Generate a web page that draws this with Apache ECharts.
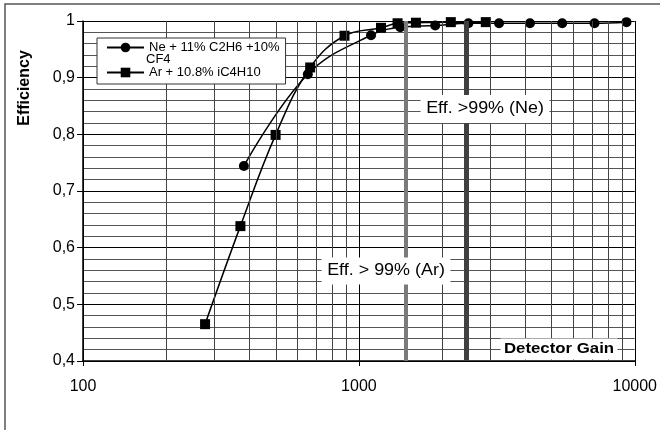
<!DOCTYPE html>
<html>
<head>
    <meta charset="utf-8">
    <title>Efficiency vs Detector Gain</title>
    <script src="https://cdn.jsdelivr.net/npm/echarts@6/dist/echarts.min.js"></script>
    <style>
        html, body { margin: 0; padding: 0; background: #fff; }
        #chart { width: 660px; height: 430px; }
    </style>
</head>
<body>
<div id="chart"></div>
<script>
    // 数据
    var neName = 'Ne + 11% C2H6 +10% CF4';
    var arName = 'Ar + 10.8% iC4H10';
    var neGain = [383, 653, 1107, 1413, 1891, 2495, 3222, 4170, 5458, 7147, 9332];
    var neEff = [0.744, 0.906, 0.975, 0.989, 0.992, 0.996, 0.996, 0.996, 0.996, 0.996, 0.998];
    var arGain = [277, 372, 499, 666, 887, 1203, 1381, 1610, 2154, 2884];
    var arEff = [0.465, 0.638, 0.799, 0.918, 0.974, 0.988, 0.996, 0.997, 0.998, 0.998];
    var gainMinorTicks = [200, 300, 400, 500, 600, 700, 800, 900, 2000, 3000, 4000, 5000, 6000, 7000, 8000, 9000];
    var ar99Gain = 1480;
    var ne99Gain = 2460;

    function pairs(xs, ys) {
        return xs.map(function (x, i) { return [x, ys[i]]; });
    }

    var myChart = echarts.init(document.getElementById('chart'));
    myChart.setOption({
        animation: false,
        textStyle: { fontFamily: 'Liberation Sans, Arial, sans-serif' },
        grid: { left: 83, right: 24, top: 21, bottom: 69 },
        legend: {
            orient: 'vertical',
            left: 97,
            top: 38,
            z: 20,
            padding: [3, 6, 5, 9],
            itemWidth: 37,
            itemHeight: 12,
            itemGap: 12,
            backgroundColor: '#fff',
            borderColor: '#333',
            borderWidth: 1,
            textStyle: { fontSize: 13, color: '#000' },
            formatter: function (name) {
                return name === neName ? 'Ne + 11% C2H6 +10%' : name;
            },
            data: [neName, arName]
        },
        xAxis: {
            type: 'log',
            logBase: 10,
            min: 100,
            max: 10000,
            axisLine: { lineStyle: { color: '#000', width: 1.5 } },
            axisTick: { show: true, length: 5, lineStyle: { color: '#000' } },
            axisLabel: {
                fontSize: 16,
                color: '#000',
                margin: 18,
                formatter: function (v) { return String(Math.round(v)); }
            },
            splitLine: { show: true, lineStyle: { color: '#000', width: 1 } }
        },
        yAxis: {
            type: 'value',
            min: 0.4,
            max: 1,
            interval: 0.1,
            axisLine: { show: true, lineStyle: { color: '#000', width: 1.5 } },
            axisTick: { show: true, length: 6, lineStyle: { color: '#000' } },
            axisLabel: {
                fontSize: 16,
                color: '#000',
                margin: 8,
                formatter: function (v) {
                    return v >= 1 ? '1' : v.toFixed(1).replace('.', ',');
                }
            },
            splitLine: { show: true, lineStyle: { color: '#000', width: 1 } },
            minorTick: { show: false, splitNumber: 5 },
            minorSplitLine: { show: true, lineStyle: { color: '#555', width: 1 } }
        },
        series: [
            {
                // 对数轴次网格线
                type: 'line',
                data: [],
                silent: true,
                z: 1,
                markLine: {
                    silent: true,
                    symbol: 'none',
                    label: { show: false },
                    lineStyle: { color: '#444', width: 1, type: 'solid' },
                    data: gainMinorTicks.map(function (g) { return { xAxis: g }; })
                }
            },
            {
                // 99% 效率位置
                type: 'line',
                data: [],
                silent: true,
                z: 1,
                markLine: {
                    silent: true,
                    symbol: 'none',
                    label: { show: false },
                    data: [
                        { xAxis: ar99Gain, lineStyle: { color: '#7a7a7a', width: 4, type: 'solid' } },
                        { xAxis: ne99Gain, lineStyle: { color: '#404040', width: 5, type: 'solid' } }
                    ]
                }
            },
            {
                name: neName,
                type: 'line',
                data: pairs(neGain, neEff),
                smooth: 0.4,
                symbol: 'circle',
                symbolSize: 10,
                z: 3,
                lineStyle: { color: '#000', width: 1.5 },
                itemStyle: { color: '#000' }
            },
            {
                name: arName,
                type: 'line',
                data: pairs(arGain, arEff),
                smooth: 0.4,
                symbol: 'rect',
                symbolSize: 10,
                z: 3,
                lineStyle: { color: '#000', width: 1.5 },
                itemStyle: { color: '#000' }
            }
        ],
        graphic: [
            {
                type: 'rect',
                z: -10,
                shape: { x: 5, y: 4, width: 700, height: 500 },
                style: { fill: 'none', stroke: '#555', lineWidth: 1.5 }
            },
            {
                type: 'text',
                x: 25, y: 88,
                rotation: Math.PI / 2,
                style: {
                    text: 'Efficiency', x: 0, y: 0,
                    align: 'center', verticalAlign: 'middle',
                    font: 'bold 16px Liberation Sans, Arial, sans-serif', fill: '#000'
                }
            },
            {
                type: 'text',
                x: 146, y: 59, z: 30,
                style: {
                    text: 'CF4', x: 0, y: 0,
                    align: 'left', verticalAlign: 'middle',
                    font: '13px Liberation Sans, Arial, sans-serif', fill: '#000'
                }
            },
            {
                type: 'text',
                x: 485, y: 109, z: 20, scaleX: 1.12,
                style: {
                    text: 'Eff. >99% (Ne)', x: 0, y: 0,
                    align: 'center', verticalAlign: 'middle',
                    font: '16px Liberation Sans, Arial, sans-serif', fill: '#000',
                    backgroundColor: '#fff', padding: [6, 5, 6, 5]
                }
            },
            {
                type: 'text',
                x: 386, y: 271, z: 20, scaleX: 1.12,
                style: {
                    text: 'Eff. > 99% (Ar)', x: 0, y: 0,
                    align: 'center', verticalAlign: 'middle',
                    font: '16px Liberation Sans, Arial, sans-serif', fill: '#000',
                    backgroundColor: '#fff', padding: [5, 5, 6, 5]
                }
            },
            {
                type: 'text',
                x: 559, y: 349, z: 20, scaleX: 1.12,
                style: {
                    text: 'Detector Gain', x: 0, y: 0,
                    align: 'center', verticalAlign: 'middle',
                    font: 'bold 15px Liberation Sans, Arial, sans-serif', fill: '#000',
                    backgroundColor: '#fff', padding: [3, 3, 3, 3]
                }
            }
        ]
    });
</script>
</body>
</html>
